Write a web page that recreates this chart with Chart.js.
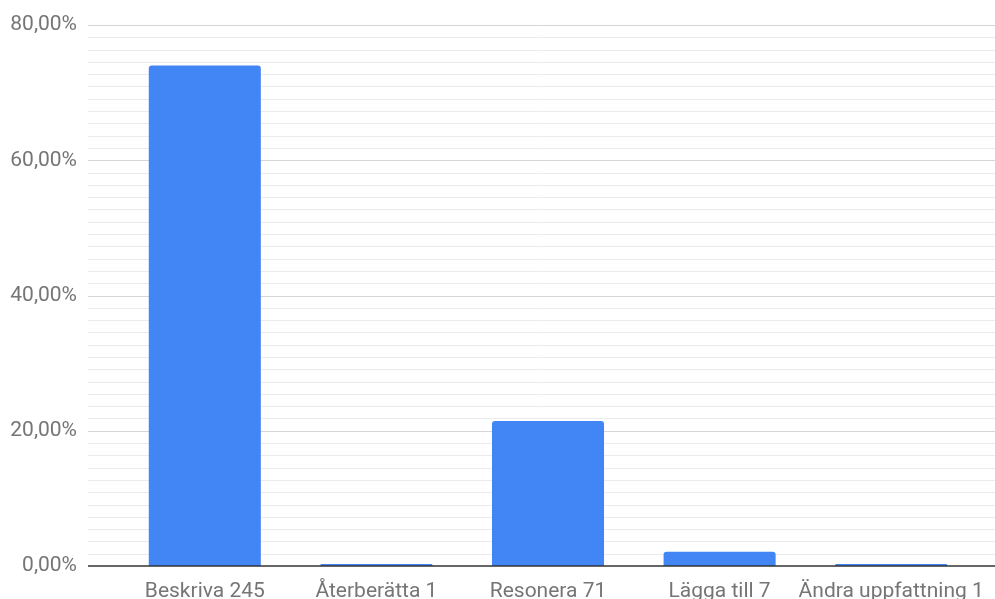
<!DOCTYPE html>
<html>
<head>
<meta charset="utf-8">
<script src="https://cdn.jsdelivr.net/npm/chart.js@4"></script>
<style>
  html, body { margin: 0; padding: 0; background: #fff; }
  #wrap { width: 995px; height: 599px; position: relative; }
</style>
</head>
<body>
<div id="wrap"><canvas id="c" width="995" height="599"></canvas></div>
<script>
const categories = ['Beskriva 245', 'Återberätta 1', 'Resonera 71', 'Lägga till 7', 'Ändra uppfattning 1'];
const percentValues = [74.02, 0.30, 21.45, 2.11, 0.30];
const yMajorTicks = [0, 20, 40, 60, 80];
const yTickLabels = ['0,00%', '20,00%', '40,00%', '60,00%', '80,00%'];
const minorPerMajor = 11;

const GRID_LEFT = 88;
const FONT = 'Roboto';

const isMajor = v => yMajorTicks.some(m => Math.abs(m - v) < 1e-6);

const gridPlugin = {
  id: 'fullGrid',
  beforeDatasetsDraw(chart) {
    const ctx = chart.ctx;
    const y = chart.scales.y;
    ctx.save();
    y.ticks.forEach(t => {
      if (Math.abs(t.value) < 1e-6) return;
      const py = Math.round(y.getPixelForValue(t.value)) + 0.5;
      ctx.beginPath();
      ctx.strokeStyle = isMajor(t.value) ? '#d6d6d6' : '#ebebeb';
      ctx.lineWidth = 1;
      ctx.moveTo(GRID_LEFT, py);
      ctx.lineTo(chart.width, py);
      ctx.stroke();
    });
    ctx.restore();
  },
  afterDatasetsDraw(chart) {
    const ctx = chart.ctx;
    const y = chart.scales.y;
    const py = Math.round(y.getPixelForValue(0));
    ctx.save();
    ctx.beginPath();
    ctx.strokeStyle = '#333333';
    ctx.lineWidth = 1.5;
    ctx.moveTo(GRID_LEFT, py);
    ctx.lineTo(chart.width, py);
    ctx.stroke();
    ctx.restore();
  }
};

new Chart(document.getElementById('c'), {
  type: 'bar',
  data: {
    labels: categories,
    datasets: [{
      data: percentValues,
      backgroundColor: '#4285f4',
      borderRadius: { topLeft: 3, topRight: 3, bottomLeft: 0, bottomRight: 0 },
      borderSkipped: 'start',
      barPercentage: 0.653,
      categoryPercentage: 1.0
    }]
  },
  options: {
    responsive: false,
    animation: false,
    devicePixelRatio: 1,
    layout: { padding: { top: 25, right: 18, left: 0, bottom: 0 } },
    plugins: { legend: { display: false }, tooltip: { enabled: false } },
    scales: {
      x: {
        grid: { display: false, drawTicks: false },
        border: { display: false },
        ticks: {
          color: '#757575',
          font: { family: FONT, size: 21 },
          padding: 13,
          maxRotation: 0,
          autoSkip: false
        },
        afterFit(scale) {
          scale.height = 33;
          scale.paddingLeft = 0;
          scale.paddingRight = 0;
        }
      },
      y: {
        min: 0,
        max: 80,
        grid: { display: false, drawTicks: false },
        border: { display: false },
        ticks: {
          color: '#757575',
          font: { family: FONT, size: 21 },
          padding: 42,
          autoSkip: false,
          callback(value) {
            const i = yMajorTicks.findIndex(m => Math.abs(m - value) < 1e-6);
            return i >= 0 ? yTickLabels[i] : '';
          }
        },
        afterBuildTicks(scale) {
          const ticks = [];
          const maxV = yMajorTicks[yMajorTicks.length - 1];
          const step = (yMajorTicks[1] - yMajorTicks[0]) / minorPerMajor;
          const n = Math.round(maxV / step);
          for (let i = 0; i <= n; i++) ticks.push({ value: i * step });
          scale.ticks = ticks;
        },
        afterFit(scale) {
          scale.width = 119;
          scale.paddingTop = 0;
          scale.paddingBottom = 0;
        }
      }
    }
  },
  plugins: [gridPlugin]
});
</script>
</body>
</html>
